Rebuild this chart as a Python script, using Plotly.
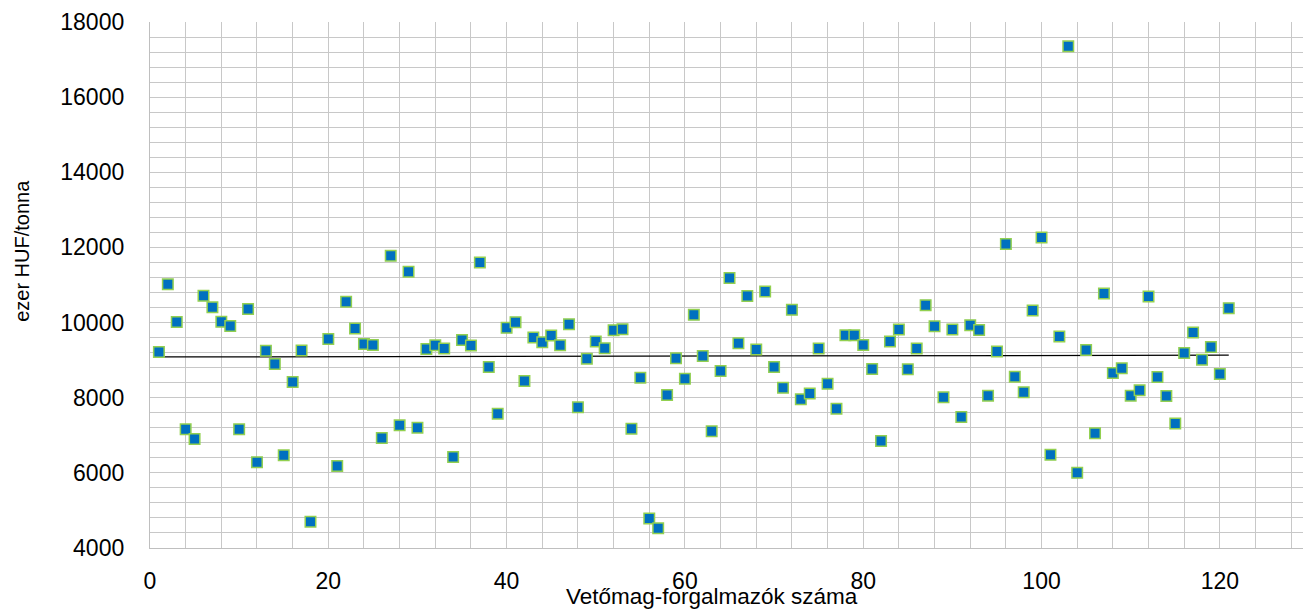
import plotly.graph_objects as go

# Data
dealer_ids = [1, 2, 3, 4, 5, 6, 7, 8, 9, 10, 11, 12, 13, 14, 15, 16, 17, 18,
              20, 21, 22, 23, 24, 25, 26, 27, 28, 29, 30, 31, 32, 33, 34, 35, 36, 37, 38, 39, 40,
              41, 42, 43, 44, 45, 46, 47, 48, 49, 50, 51, 52, 53, 54, 55, 56, 57, 58, 59, 60,
              61, 62, 63, 64, 65, 66, 67, 68, 69, 70, 71, 72, 73, 74, 75, 76, 77, 78, 79, 80,
              81, 82, 83, 84, 85, 86, 87, 88, 89, 90, 91, 92, 93, 94, 95, 96, 97, 98, 99, 100,
              101, 102, 103, 104, 105, 106, 107, 108, 109, 110, 111, 112, 113, 114, 115, 116,
              117, 118, 119, 120, 121]
prices = [9215, 11020, 10015, 7160, 6900, 10712, 10405, 10019, 9912, 7160, 10360, 6285, 9250, 8900, 6468, 8415, 9255, 4700,
          9565, 6180, 10552, 9840, 9432, 9405, 6925, 11779, 7264, 11352, 7200, 9299, 9397, 9307, 6419, 9539, 9387, 11600, 8819, 7573, 9859,
          10011, 8445, 9600, 9477, 9653, 9397, 9957, 7744, 9040, 9493, 9317, 9797, 9824, 7173, 8533, 4784, 4525, 8072, 9051, 8507,
          10205, 9112, 7108, 8712, 11184, 9451, 10704, 9280, 10827, 8819, 8263, 10339, 7960, 8112, 9307, 8370, 7707, 9664, 9664, 9405,
          8765, 6845, 9493, 9813, 8757, 9307, 10464, 9904, 8010, 9813, 7485, 9931, 9805, 8053, 9227, 12091, 8560, 8144, 10320, 12267,
          6480, 9627, 17352, 6000, 9272, 7051, 10773, 8659, 8784, 8053, 8197, 10693, 8552, 8045, 7317, 9192,
          9733, 9013, 9352, 8632, 10384]

# Linear trend line end points
trend_x = [1, 121]
trend_y = [9085, 9131]

x_title = "Vetőmag-forgalmazók száma"
y_title = "ezer HUF/tonna"
x_ticks = [0, 20, 40, 60, 80, 100, 120]
y_ticks = [4000, 6000, 8000, 10000, 12000, 14000, 16000, 18000]
y_tick_labels = [str(v) for v in y_ticks]

FONT = "Liberation Sans, Arial, sans-serif"
GRID = "#c8c8c8"

fig = go.Figure()
fig.add_trace(go.Scatter(
    x=trend_x, y=trend_y, mode="lines",
    line=dict(color="black", width=1.2),
    showlegend=False, hoverinfo="skip",
))
fig.add_trace(go.Scatter(
    x=dealer_ids, y=prices, mode="markers",
    marker=dict(symbol="square", size=10.5, color="#0070C0",
                line=dict(color="#92D050", width=1.5)),
    showlegend=False,
))

# page body has an 8px default margin; compensate so the plot sits where the reference has it
fig.update_layout(
    width=1303, height=602,
    margin=dict(l=142, r=2, t=14, b=62),
    paper_bgcolor="white", plot_bgcolor="white",
    font=dict(family=FONT, color="black", size=23),
    xaxis=dict(
        range=[0, 130], tickvals=x_ticks, showgrid=True, gridcolor=GRID, gridwidth=1.3,
        minor=dict(dtick=4, tick0=0, showgrid=True, gridcolor=GRID, gridwidth=1.3),
        showline=True, linecolor="#bfbfbf", linewidth=1.3, zeroline=False,
        ticks="", ticklabelstandoff=12, tickfont=dict(size=23),
    ),
    yaxis=dict(
        range=[4000, 18000], tickvals=y_ticks, ticktext=y_tick_labels,
        showgrid=True, gridcolor=GRID, gridwidth=1.3,
        minor=dict(dtick=400, tick0=4000, showgrid=True, gridcolor=GRID, gridwidth=1.3),
        showline=True, linecolor="#bfbfbf", linewidth=1.3, zeroline=False,
        ticks="", ticklabelstandoff=20, tickfont=dict(size=23),
    ),
    annotations=[
        dict(text=x_title, xref="paper", yref="paper", x=0.485, y=-0.092,
             xanchor="center", yanchor="middle", showarrow=False,
             font=dict(size=22.5, family=FONT)),
        dict(text=y_title, xref="paper", yref="paper", x=-0.110, y=0.564,
             xanchor="center", yanchor="middle", showarrow=False, textangle=-90,
             font=dict(size=20, family=FONT)),
    ],
)

fig.write_html("out.html")
